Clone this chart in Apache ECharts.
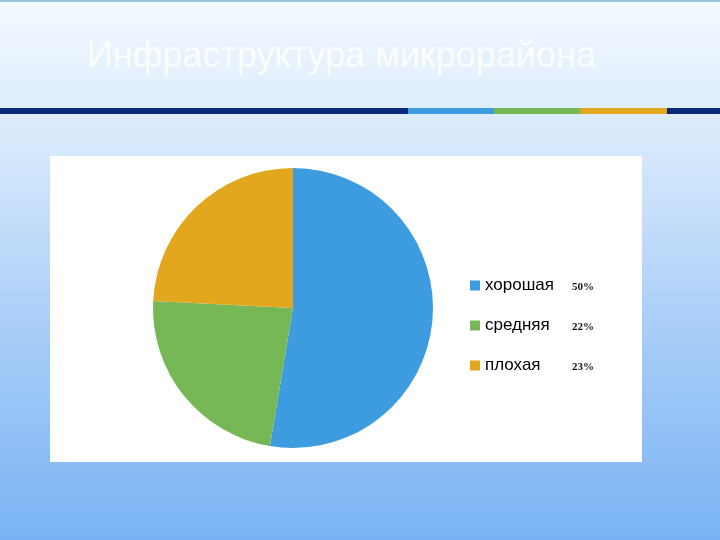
<!DOCTYPE html>
<html>
<head>
<meta charset="utf-8">
<script src="https://cdn.jsdelivr.net/npm/echarts@6/dist/echarts.min.js"></script>
<style>
html, body { margin: 0; padding: 0; }
#chart { width: 720px; height: 540px; }
</style>
</head>
<body>
<div id="chart"></div>
<script>
var categories = ['хорошая', 'средняя', 'плохая'];
var values = [50, 22, 23];
var colors = ['#3d9be0', '#76b856', '#e3a71f'];

var myChart = echarts.init(document.getElementById('chart'));

var pieData = [];
for (var i = 0; i < categories.length; i++) {
    pieData.push({ name: categories[i], value: values[i], itemStyle: { color: colors[i] } });
}

option = {
    backgroundColor: new echarts.graphic.LinearGradient(0, 0, 0, 1, [
        { offset: 0, color: '#f4f9ff' },
        { offset: 0.25, color: '#d9eafc' },
        { offset: 0.6, color: '#aacef8' },
        { offset: 1, color: '#7ab3f4' }
    ]),
    graphic: [
        { type: 'rect', shape: { x: 0, y: 0, width: 720, height: 2 }, style: { fill: '#9cc3de' } },
        {
            type: 'text', left: 87, top: 39,
            style: { text: 'Инфраструктура микрорайона', fill: 'rgba(255,255,255,0.85)', font: '36px "Liberation Sans", Arial, sans-serif' }
        },
        // colored strip under the title
        { type: 'rect', shape: { x: 0, y: 108, width: 408, height: 6 }, style: { fill: '#0b2a7c' } },
        { type: 'rect', shape: { x: 408, y: 108, width: 86, height: 6 }, style: { fill: '#3d9be0' } },
        { type: 'rect', shape: { x: 494, y: 108, width: 86, height: 6 }, style: { fill: '#76b856' } },
        { type: 'rect', shape: { x: 580, y: 108, width: 87, height: 6 }, style: { fill: '#e3a71f' } },
        { type: 'rect', shape: { x: 667, y: 108, width: 53, height: 6 }, style: { fill: '#0b2a7c' } },
        // white chart box
        { type: 'rect', z: -1, shape: { x: 50, y: 156, width: 592, height: 306 }, style: { fill: '#ffffff' } }
    ],
    legend: {
        orient: 'vertical',
        left: 465,
        top: 272,
        icon: 'rect',
        itemWidth: 10,
        itemHeight: 10,
        itemGap: 23,
        data: categories,
        formatter: function (name) {
            var idx = categories.indexOf(name);
            return '{n|' + name + '}{p|' + values[idx] + '%}';
        },
        textStyle: {
            rich: {
                n: { fontFamily: '"Liberation Sans", Arial, sans-serif', fontSize: 17, color: '#000', width: 87, lineHeight: 17 },
                p: { fontFamily: '"Liberation Serif", "Times New Roman", serif', fontSize: 11, color: '#111', fontWeight: 'bold', padding: [4, 0, 0, 0] }
            }
        }
    },
    series: [
        {
            type: 'pie',
            center: [293, 308],
            radius: 140,
            startAngle: 90,
            clockwise: true,
            label: { show: false },
            labelLine: { show: false },
            animation: false,
            data: pieData
        }
    ]
};
myChart.setOption(option);
</script>
</body>
</html>
